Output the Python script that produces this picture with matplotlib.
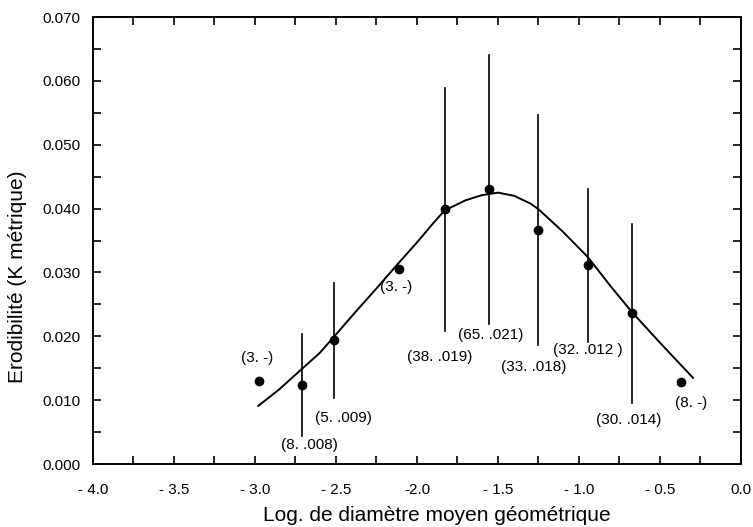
import numpy as np
import matplotlib.pyplot as plt
from matplotlib.ticker import MultipleLocator, FixedLocator, FixedFormatter

plt.rcParams['font.family'] = ['Liberation Sans', 'DejaVu Sans']

# class means: log geometric mean diameter, erodibility, (n, sd)
log_d = [-2.975, -2.71, -2.51, -2.11, -1.83, -1.555, -1.25, -0.945, -0.673, -0.37]
k_mean = [0.0130, 0.0124, 0.0194, 0.0305, 0.0399, 0.0430, 0.0366, 0.0311, 0.0236, 0.0128]
k_sd = [0, 0.008, 0.009, 0, 0.019, 0.021, 0.018, 0.012, 0.014, 0]
labels = ['(3. -)', '(8. .008)', '(5. .009)', '(3. -)', '(38. .019)', '(65. .021)',
          '(33. .018)', '(32. .012 )', '(30. .014)', '(8. -)']
# label offsets in pixels from the point
lab_dx = [-2, 7, 9, -3, -5, 2, -5, 0, -3, 10]
lab_dy = [23, -60, -78, -18, -148, -146, -137, -85, -107, -21]

# fitted curve
curve_x = [-2.98, -2.85, -2.71, -2.6, -2.51, -2.38, -2.25, -2.13, -2.0, -1.9, -1.83,
           -1.7, -1.6, -1.5, -1.4, -1.3, -1.25, -1.1, -0.945, -0.8, -0.673, -0.5, -0.4, -0.296]
curve_y = [0.0091, 0.0117, 0.0149, 0.0174, 0.0200, 0.0238, 0.0275, 0.0310, 0.0347, 0.0377, 0.0397,
           0.0413, 0.0421, 0.0425, 0.0420, 0.0408, 0.0399, 0.0364, 0.0324, 0.0277, 0.0238, 0.0190, 0.0163, 0.0135]

x_ticks = [-4.0, -3.5, -3.0, -2.5, -2.0, -1.5, -1.0, -0.5, 0.0]
x_tick_labels = ['- 4.0', '- 3.5', '- 3.0', '- 2.5', '-2.0', '- 1.5', '- 1.0', '- 0.5', '0.0']

fig = plt.figure(figsize=(7.53, 5.27), dpi=100)
ax = fig.add_axes([0.1235, 0.1195, 0.8605, 0.8482])

ax.plot(curve_x, curve_y, color='black', lw=1.4)

for x, y, s in zip(log_d, k_mean, k_sd):
    if s > 0:
        ax.plot([x, x], [y - s, y + s], color='black', lw=1.2)
ax.plot(log_d, k_mean, 'o', color='black', ms=6)

for x, y, t, dx, dy in zip(log_d, k_mean, labels, lab_dx, lab_dy):
    ax.annotate(t, (x, y), xytext=(dx, dy), textcoords='offset pixels',
                ha='center', va='center', fontsize=11)

ax.set_xlim(-4.0, 0.0)
ax.set_ylim(0.0, 0.070)
ax.xaxis.set_major_locator(FixedLocator(x_ticks))
ax.xaxis.set_major_formatter(FixedFormatter(x_tick_labels))
ax.xaxis.set_minor_locator(MultipleLocator(0.25))
ax.yaxis.set_major_locator(MultipleLocator(0.01))
ax.yaxis.set_minor_locator(MultipleLocator(0.005))
ax.yaxis.set_major_formatter(plt.FuncFormatter(lambda v, p: f'{v:.3f}'))
ax.tick_params(which='both', direction='in', top=True, right=True, length=6, width=1.2,
               labelsize=11)
ax.tick_params(axis='x', pad=14)
ax.tick_params(axis='y', pad=9)
for sp in ax.spines.values():
    sp.set_linewidth(1.4)

ax.set_xlabel('Log. de diamètre moyen géométrique', fontsize=15, labelpad=3)
ax.xaxis.set_label_coords(0.53, -0.095)
ax.set_ylabel('Erodibilité (K métrique)', fontsize=15)
ax.yaxis.set_label_coords(-0.102, 0.42)

fig.savefig('out.png', dpi=100)
